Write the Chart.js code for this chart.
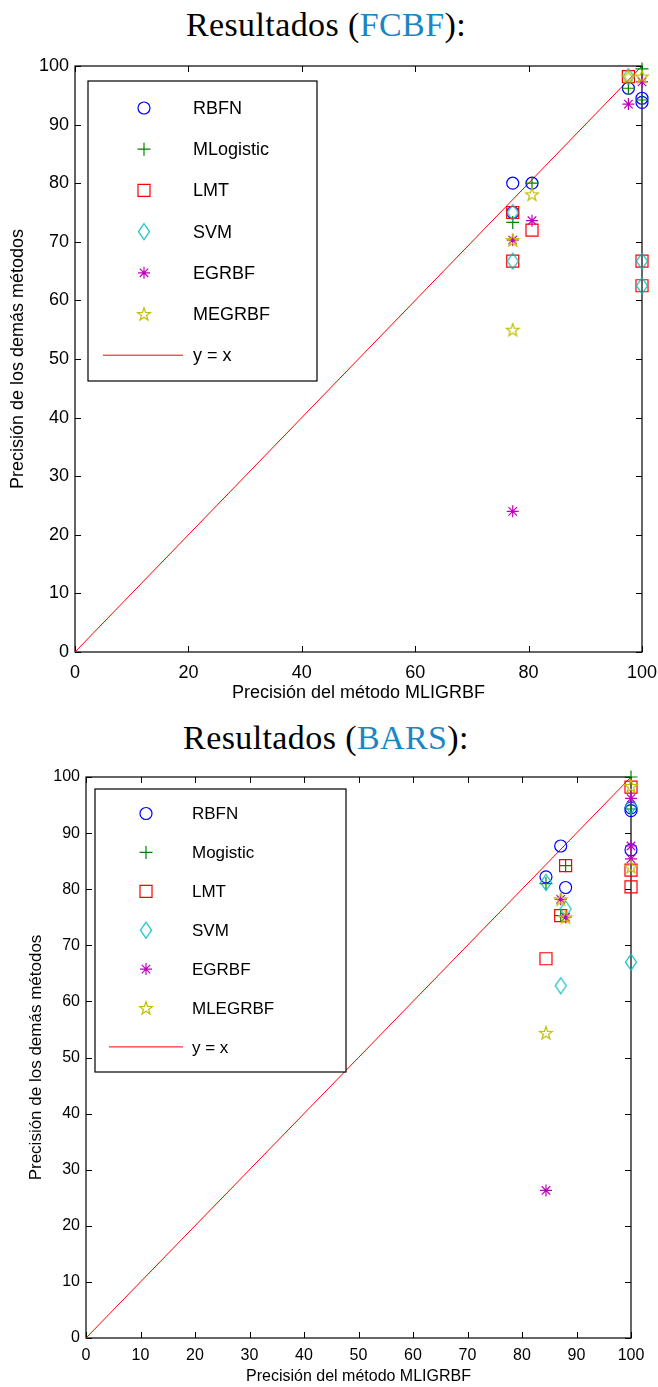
<!DOCTYPE html>
<html>
<head>
<meta charset="utf-8">
<script src="https://cdn.jsdelivr.net/npm/chart.js"></script>
<style>
  body { margin: 0; background: #fff; width: 658px; height: 1387px; position: relative; overflow: hidden; }
  .ttl { position: absolute; left: 0; width: 652px; text-align: center; font-family: "Liberation Serif", serif;
         font-size: 34px; line-height: 40px; color: #000; white-space: nowrap; letter-spacing: 0.4px; }
  .ttl span { color: #1b86c4; }
  canvas { position: absolute; left: 0; }
</style>
</head>
<body>
<div class="ttl" style="top:5px">Resultados (<span>FCBF</span>):</div>
<canvas id="fcbf" width="658" height="660" style="top:50px"></canvas>
<div class="ttl" style="top:718px">Resultados (<span>BARS</span>):</div>
<canvas id="bars" width="658" height="667" style="top:720px"></canvas>
<script>
// values: [x = MLIGRBF accuracy, y = other method accuracy]
const fcbfNames = ['RBFN', 'MLogistic', 'LMT', 'SVM', 'EGRBF', 'MEGRBF'];
const fcbfRBFN      = [[77.2, 80], [77.2, 75], [80.6, 80], [97.6, 96.2], [100, 94.5], [100, 93.8]];
const fcbfMLogistic = [[77.2, 73.3], [80.6, 80], [97.6, 96.2], [100, 99.5], [100, 94.2]];
const fcbfLMT       = [[77.2, 75], [77.2, 66.7], [80.6, 72], [97.6, 98.2], [100, 66.7], [100, 62.5]];
const fcbfSVM       = [[77.2, 75], [77.2, 66.7], [97.6, 98.2], [100, 66.7], [100, 62.5]];
const fcbfEGRBF     = [[77.2, 70.3], [77.2, 24], [80.6, 73.6], [97.6, 93.5], [100, 97.3]];
const fcbfMEGRBF    = [[77.2, 70.3], [77.2, 55], [80.6, 78.1], [97.6, 98.2], [100, 98.2]];

const barsNames = ['RBFN', 'Mogistic', 'LMT', 'SVM', 'EGRBF', 'MLEGRBF'];
const barsRBFN     = [[87.1, 87.7], [84.4, 82.2], [88, 80.3], [100, 94.5], [100, 94], [100, 87]];
const barsMogistic = [[88, 84.2], [84.4, 81], [87.1, 75.3], [100, 100], [100, 94.3]];
const barsLMT      = [[88, 84.2], [87.1, 75.3], [84.4, 67.6], [100, 98.2], [100, 83.4], [100, 80.4]];
const barsSVM      = [[84.4, 81.2], [88, 76.5], [87.1, 62.8], [100, 67], [100, 94.8]];
const barsEGRBF    = [[87.1, 78.2], [88, 75], [84.4, 26.3], [100, 96.2], [100, 87.7], [100, 85.4]];
const barsMLEGRBF  = [[87.1, 78.2], [88, 75], [84.4, 54.4], [100, 98.4], [100, 84]];

const identityLine = [0, 100];
const lineLabel = 'y = x';

const colors = ['#0000ff', '#008000', '#ff0000', '#00bfbf', '#bf00bf', '#bfbf00'];

// matlab-ish markers that chart.js doesn't have
function diamondImg(color) {
  const c = document.createElement('canvas');
  c.width = 14; c.height = 20;
  const g = c.getContext('2d');
  g.strokeStyle = color; g.lineWidth = 1.2;
  g.beginPath();
  g.moveTo(7, 2); g.lineTo(12.5, 10); g.lineTo(7, 18); g.lineTo(1.5, 10);
  g.closePath(); g.stroke();
  return c;
}
function pentagramImg(color) {
  const c = document.createElement('canvas');
  c.width = 16; c.height = 16;
  const g = c.getContext('2d');
  g.strokeStyle = color; g.lineWidth = 1.2;
  g.beginPath();
  for (let i = 0; i < 10; i++) {
    const r = i % 2 ? 2.7 : 6.8;
    const a = -Math.PI / 2 + i * Math.PI / 5;
    const px = 8 + r * Math.cos(a), py = 8.6 + r * Math.sin(a);
    i ? g.lineTo(px, py) : g.moveTo(px, py);
  }
  g.closePath(); g.stroke();
  return c;
}

const markers = [
  { pointStyle: 'circle', pointRadius: 6 },
  { pointStyle: 'cross', pointRadius: 6.5 },
  { pointStyle: 'rect', pointRadius: 8.5 },
  { pointStyle: diamondImg(colors[3]), pointRadius: 7 },
  { pointStyle: 'star', pointRadius: 6 },
  { pointStyle: pentagramImg(colors[5]), pointRadius: 7 }
];

const toXY = arr => arr.map(p => ({ x: p[0], y: p[1] }));

function buildDatasets(names, series) {
  const sets = series.map((s, i) => ({
    type: 'scatter',
    label: names[i],
    data: toXY(s),
    borderColor: colors[i],
    backgroundColor: 'rgba(0,0,0,0)',
    borderWidth: 1.2,
    pointStyle: markers[i].pointStyle,
    pointRadius: markers[i].pointRadius,
    pointHoverRadius: markers[i].pointRadius,
    clip: false,
    order: 20 - i
  }));
  sets.push({
    type: 'line',
    label: lineLabel,
    data: identityLine.map(v => ({ x: v, y: v })),
    borderColor: '#ff0000',
    borderWidth: 1,
    pointRadius: 0,
    order: 30
  });
  return sets;
}

// box + inward ticks on all four sides
const framePlugin = {
  id: 'frame',
  beforeDatasetsDraw(chart) {
    const { ctx, chartArea: a, scales } = chart;
    const len = 6;
    ctx.save();
    ctx.strokeStyle = '#000';
    ctx.lineWidth = 1.2;
    ctx.strokeRect(a.left, a.top, a.right - a.left, a.bottom - a.top);
    ctx.lineWidth = 1;
    ctx.beginPath();
    scales.x.ticks.forEach(t => {
      const px = Math.round(scales.x.getPixelForValue(t.value)) + 0.5;
      ctx.moveTo(px, a.bottom); ctx.lineTo(px, a.bottom - len);
      ctx.moveTo(px, a.top); ctx.lineTo(px, a.top + len);
    });
    scales.y.ticks.forEach(t => {
      const py = Math.round(scales.y.getPixelForValue(t.value)) + 0.5;
      ctx.moveTo(a.left, py); ctx.lineTo(a.left + len, py);
      ctx.moveTo(a.right, py); ctx.lineTo(a.right - len, py);
    });
    ctx.stroke();
    ctx.restore();
  }
};

// legend box drawn inside the plot, like matlab's
const boxLegend = {
  id: 'boxLegend',
  afterDatasetsDraw(chart, args, o) {
    const ctx = chart.ctx;
    ctx.save();
    ctx.fillStyle = '#fff';
    ctx.fillRect(o.left, o.top, o.right - o.left, o.bottom - o.top);
    ctx.strokeStyle = '#000';
    ctx.lineWidth = 1.2;
    ctx.strokeRect(o.left, o.top, o.right - o.left, o.bottom - o.top);
    ctx.font = o.fontSize + 'px "Liberation Sans", Arial, sans-serif';
    ctx.textBaseline = 'middle';
    chart.data.datasets.forEach((ds, i) => {
      const y = o.firstY + i * o.step;
      ctx.strokeStyle = ds.borderColor;
      if (ds.type === 'line') {
        ctx.lineWidth = ds.borderWidth;
        ctx.beginPath(); ctx.moveTo(o.lineX0, y); ctx.lineTo(o.lineX1, y); ctx.stroke();
      } else {
        ctx.lineWidth = ds.borderWidth;
        ctx.fillStyle = 'rgba(0,0,0,0)';
        Chart.helpers.drawPoint(ctx, {
          pointStyle: ds.pointStyle, radius: ds.pointRadius, rotation: 0, borderWidth: ds.borderWidth
        }, o.markerX, y);
      }
      ctx.fillStyle = '#000';
      ctx.fillText(ds.label, o.textX, y + 1);
    });
    ctx.restore();
  }
};

function makeChart(id, names, series, cfg) {
  const font = { family: '"Liberation Sans", Arial, sans-serif' };
  return new Chart(document.getElementById(id), {
    data: { datasets: buildDatasets(names, series) },
    plugins: [framePlugin, boxLegend],
    options: {
      responsive: false,
      animation: false,
      devicePixelRatio: 1,
      layout: { padding: { top: cfg.padTop, right: cfg.padRight, left: 0, bottom: 0 } },
      plugins: {
        legend: { display: false },
        tooltip: { enabled: false },
        boxLegend: cfg.legend
      },
      scales: {
        x: {
          type: 'linear', min: 0, max: 100,
          grid: { display: false, drawTicks: false },
          border: { display: false },
          afterFit: s => { s.height = cfg.xAxisHeight; s.paddingRight = 0; s.paddingLeft = 0; },
          ticks: { stepSize: cfg.xStep, autoSkip: false, maxRotation: 0, padding: cfg.xTickPad, color: '#000',
                   font: { ...font, size: cfg.tickSize } },
          title: { display: true, text: 'Precisión del método MLIGRBF', color: '#000',
                   font: { ...font, size: cfg.xTitleSize }, padding: cfg.xTitlePad }
        },
        y: {
          type: 'linear', min: 0, max: 100,
          grid: { display: false, drawTicks: false },
          border: { display: false },
          afterFit: s => { s.width = cfg.yAxisWidth; s.paddingTop = 0; s.paddingBottom = 0; },
          ticks: { stepSize: cfg.yStep, autoSkip: false, padding: cfg.yTickPad, color: '#000',
                   font: { ...font, size: cfg.tickSize } },
          title: { display: true, text: 'Precisión de los demás métodos', color: '#000',
                   font: { ...font, size: cfg.yTitleSize }, padding: cfg.yTitlePad }
        }
      }
    }
  });
}

makeChart('fcbf', fcbfNames,
  [fcbfRBFN, fcbfMLogistic, fcbfLMT, fcbfSVM, fcbfEGRBF, fcbfMEGRBF], {
    padTop: 16, padRight: 16, yAxisWidth: 75, xAxisHeight: 58,
    xStep: 20, yStep: 10, tickSize: 18, xTickPad: 10, yTickPad: 6,
    xTitleSize: 18, yTitleSize: 18,
    xTitlePad: { top: 6, bottom: 6 }, yTitlePad: { top: 7, bottom: 4 },
    legend: { left: 88, top: 31, right: 317, bottom: 331, markerX: 144, textX: 193,
              lineX0: 103, lineX1: 183, firstY: 58, step: 41.2, fontSize: 18 }
  });

makeChart('bars', barsNames,
  [barsRBFN, barsMogistic, barsLMT, barsSVM, barsEGRBF, barsMLEGRBF], {
    padTop: 57, padRight: 27, yAxisWidth: 86, xAxisHeight: 49,
    xStep: 10, yStep: 10, tickSize: 16, xTickPad: 8, yTickPad: 6,
    xTitleSize: 16, yTitleSize: 17,
    xTitlePad: { top: 1, bottom: 1 }, yTitlePad: { top: 26, bottom: 4 },
    legend: { left: 95, top: 69, right: 346, bottom: 352, markerX: 146, textX: 192,
              lineX0: 109, lineX1: 183, firstY: 93.5, step: 38.9, fontSize: 17 }
  });
</script>
</body>
</html>
